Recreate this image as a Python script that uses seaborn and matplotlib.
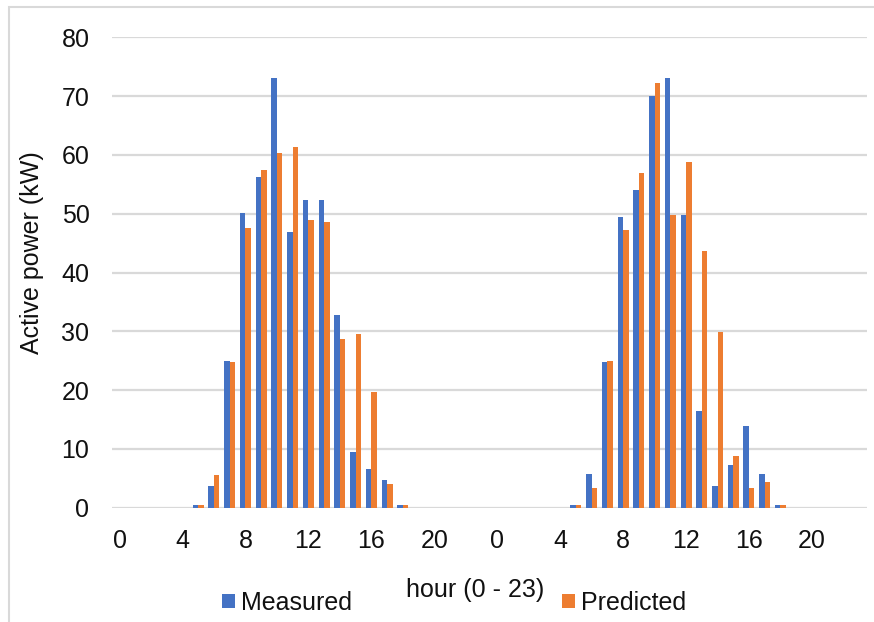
import numpy as np
import pandas as pd
import matplotlib
matplotlib.use("Agg")
import matplotlib.pyplot as plt
from matplotlib.patches import Patch, Rectangle
import seaborn as sns

# Hourly active power over two consecutive days (kW)
hours = list(range(24))
measured_day1 = [0, 0, 0, 0, 0, 0.5, 3.7, 25.0, 50.1, 56.3, 73.0, 46.9,
                 52.3, 52.3, 32.7, 9.4, 6.6, 4.7, 0.5, 0, 0, 0, 0, 0]
predicted_day1 = [0, 0, 0, 0, 0, 0.5, 5.5, 24.7, 47.6, 57.4, 60.3, 61.3,
                  49.0, 48.6, 28.7, 29.5, 19.6, 4.0, 0.5, 0, 0, 0, 0, 0]
measured_day2 = [0, 0, 0, 0, 0, 0.5, 5.8, 24.7, 49.4, 54.1, 70.1, 73.0,
                 49.7, 16.4, 3.7, 7.3, 13.9, 5.8, 0.5, 0, 0, 0, 0, 0]
predicted_day2 = [0, 0, 0, 0, 0, 0.5, 3.3, 25.0, 47.2, 57.0, 72.3, 49.7,
                  58.8, 43.6, 29.8, 8.8, 3.3, 4.4, 0.5, 0, 0, 0, 0, 0]
series_names = ["Measured", "Predicted"]
colors = ["#4472C4", "#ED7D31"]
y_ticks = list(range(0, 81, 10))
tick_step = 4

measured = measured_day1 + measured_day2
predicted = predicted_day1 + predicted_day2
slot = list(range(len(measured)))
hour_of_slot = hours + hours

df = pd.DataFrame({
    "slot": slot * 2,
    "kw": measured + predicted,
    "series": [series_names[0]] * len(slot) + [series_names[1]] * len(slot),
})

sns.set_theme(style="white")
plt.rcParams["font.family"] = ["Liberation Sans", "DejaVu Sans"]
FS = 18
plt.rcParams["font.size"] = FS
TXT = "#111111"

W, H = 874, 622
fig = plt.figure(figsize=(W / 100, H / 100), dpi=100)
left, right, top, bottom = 111.7, 867.0, 37.3, 507.7
ax = fig.add_axes([left / W, 1 - bottom / H, (right - left) / W, (bottom - top) / H])

sns.barplot(data=df, x="slot", y="kw", hue="series", hue_order=series_names,
            palette=colors, saturation=1, width=0.7, errorbar=None,
            legend=False, linewidth=0, ax=ax)

ax.set_ylim(0, 80)
ax.set_yticks(y_ticks)
ax.set_yticklabels([str(v) for v in y_ticks], fontsize=FS, color=TXT)
ax.grid(axis="y", color="#D9D9D9", linewidth=1.6)
ax.set_axisbelow(True)
for s in ax.spines.values():
    s.set_visible(False)

tick_pos = [i for i in slot if hour_of_slot[i] % tick_step == 0]
ax.set_xticks(tick_pos)
ax.set_xticklabels([str(hour_of_slot[i]) for i in tick_pos], fontsize=FS, color=TXT)
ax.tick_params(axis="both", length=0)
ax.tick_params(axis="y", pad=16)
ax.tick_params(axis="x", pad=15)

ax.set_ylabel("Active power (kW)", fontsize=FS, color=TXT)
ax.yaxis.set_label_coords((32 - left) / (right - left), (bottom - 253) / (bottom - top))
ax.yaxis.label.set_va("center")

ax.set_xlabel("hour (0 - 23)", fontsize=FS, color=TXT)
ax.xaxis.set_label_coords((475 - left) / (right - left), (bottom - 590) / (bottom - top))
ax.xaxis.label.set_va("center")

# Legend entries sit on either side of the axis title
for name, col, xpix in zip(series_names, colors, [222, 562]):
    fig.legend(handles=[Patch(facecolor=col, edgecolor="none")], labels=[name],
               loc="center left", bbox_to_anchor=(xpix / W, 1 - 603 / H),
               frameon=False, fontsize=FS, handlelength=0.5, handleheight=0.5,
               handletextpad=0.25, borderpad=0, borderaxespad=0,
               labelcolor=TXT)

# Light chart-area frame
fig.add_artist(Rectangle((9 / W, -0.05), 1.2, 1 - 7 / H + 0.05,
                         transform=fig.transFigure, fill=False,
                         edgecolor="#D9D9D9", linewidth=1.5))

fig.savefig("out.png", dpi=100)
